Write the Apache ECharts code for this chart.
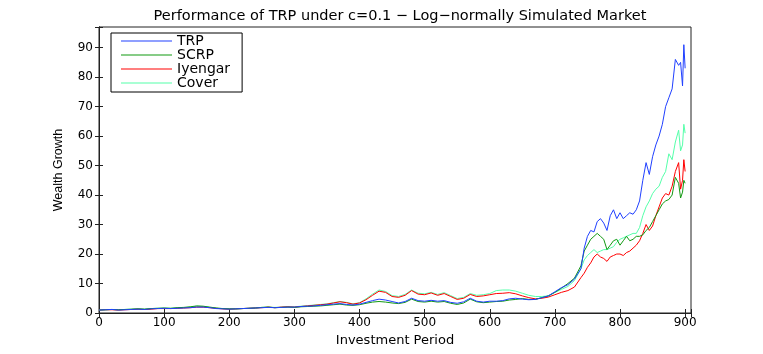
<!DOCTYPE html>
<html>
<head>
<meta charset="utf-8">
<script src="https://cdn.jsdelivr.net/npm/echarts@6/dist/echarts.min.js"></script>
<style>html,body{margin:0;padding:0;background:#fff;}#c{width:763px;height:354px;}</style>
</head>
<body>
<div id="c"></div>
<script>
var periods = [0,10,20,30,40,50,60,70,80,90,100,110,120,130,140,150,160,170,180,190,200,210,220,230,240,250,260,270,280,290,300,310,320,330,340,350,360,370,380,390,400,410,420,430,440,450,460,470,480,490,500,510,520,530,540,550,560,570,580,590,600,610,620,630,640,650,660,670,680,690,700,710,720,730,740,745,750,755,760,765,770,775,780,785,790,795,800,805,810,815,820,825,830,835,840,845,850,855,860,865,870,875,880,885,890,893,896,898,900];

var trp = [1.0,1.1,1.2,1.0,1.1,1.2,1.3,1.2,1.4,1.5,1.6,1.5,1.6,1.7,1.8,2.0,2.0,1.8,1.5,1.4,1.3,1.4,1.5,1.6,1.7,1.8,1.9,1.8,1.9,2.0,2.0,2.2,2.3,2.4,2.6,2.8,3.0,3.2,2.9,2.7,3.0,3.6,4.2,4.7,4.4,3.9,3.4,3.9,5.0,4.2,4.0,4.3,4.0,4.2,3.6,3.3,3.8,5.0,4.0,3.7,4.0,4.0,4.2,4.8,5.0,4.7,4.5,4.6,5.2,5.8,7.2,8.6,9.6,11.5,15,22,26,28,27.5,31,32,30.5,28,33,35,32,34,32,33,34,33.5,35,38,45,51,47,53,57,60,64,70,73,76,86,84,85,77,91,83];

var scrp = [1.0,1.1,1.2,1.1,1.2,1.3,1.4,1.3,1.5,1.6,1.7,1.6,1.8,1.9,2.1,2.4,2.3,2.0,1.7,1.5,1.4,1.4,1.5,1.6,1.7,1.9,2.0,1.8,1.9,2.0,1.9,2.1,2.2,2.3,2.4,2.6,2.8,3.0,2.7,2.6,2.8,3.3,3.7,3.9,3.7,3.4,3.2,3.6,4.7,3.9,3.7,4.0,3.7,3.9,3.3,2.9,3.4,4.7,3.8,3.5,3.7,3.9,4.0,4.4,4.6,4.9,4.6,4.6,5.2,5.8,7.0,8.4,10.0,11.8,16,21,23,25,26,27,26,25,21.5,23,24.5,25,23,24.5,26,24.5,25,26,26,26.5,28,29,31,33,35,37,38,38.5,40,46,44,39,41,45,44];

var iyengar = [1.0,1.1,1.1,1.0,1.1,1.2,1.3,1.2,1.3,1.5,1.5,1.5,1.6,1.7,1.8,2.0,2.0,1.8,1.6,1.4,1.3,1.4,1.5,1.6,1.7,1.8,2.0,1.8,2.0,2.1,2.0,2.2,2.4,2.6,2.8,3.0,3.4,3.8,3.5,3.0,3.4,4.5,6.0,7.4,7.0,5.6,5.3,6.0,7.6,6.4,6.2,6.8,6.0,6.6,5.6,4.6,5.0,6.3,5.6,5.8,6.2,6.6,6.7,6.9,6.5,5.8,5.2,4.8,5.0,5.4,6.2,7.0,7.6,8.8,12,13.5,15.5,17,19,20,19,18.5,17.5,19,19.5,20,20,19.5,20.5,21,22,23,24.5,27,30,28,29.5,33,36,39,40.5,40,43,48,51,42,45,52,48];

var cover = [1.0,1.1,1.2,1.1,1.2,1.3,1.4,1.3,1.5,1.6,1.6,1.6,1.7,1.8,2.0,2.3,2.2,1.9,1.6,1.5,1.4,1.4,1.5,1.6,1.7,1.9,2.0,1.9,2.0,2.1,2.1,2.3,2.5,2.7,2.9,3.1,3.5,3.9,3.6,3.1,3.5,4.8,6.4,7.8,7.3,5.9,5.6,6.3,7.8,6.7,6.5,7.0,6.3,6.9,5.9,4.9,5.3,6.6,6.0,6.2,6.6,7.6,7.8,7.8,7.4,6.7,6.0,5.6,5.6,5.8,7.0,8.0,9.0,11.0,15,18,19.5,20.5,21.5,20.5,21,21.5,21.5,22,22.5,24,25,25.5,26,26.5,27,27,29,33,36,38,40.5,42,43,46,48,54,52,58,62,55,57,64,61];

var seriesNames = ['TRP','SCRP','Iyengar','Cover'];
var seriesColors = ['#2040ff','#119911','#ff0000','#55ffaa'];
var xTicks = [0,100,200,300,400,500,600,700,800,900];
var yTicks = [0,10,20,30,40,50,60,70,80,90];

function zip(xs, ys){ return xs.map(function(x,i){ return [x, ys[i]]; }); }
var allValues = [trp, scrp, iyengar, cover];

var chart = echarts.init(document.getElementById('c'), null, {renderer:'canvas'});
var tickFont = {fontFamily:'DejaVu Sans', fontSize:12, color:'#000'};
var axisLineStyle = {show:true, lineStyle:{color:'#222', width:1}};
var option = {
  animation:false,
  backgroundColor:'#fff',
  title:{
    text:'Performance of TRP under c=0.1 \u2212 Log\u2212normally Simulated Market',
    left:395, top:4, textAlign:'center',
    textStyle:{fontFamily:'DejaVu Sans', fontSize:14.5, fontWeight:'normal', color:'#000'}
  },
  legend:{
    data:seriesNames,
    orient:'vertical', left:111, top:33,
    backgroundColor:'#fff', borderColor:'#000', borderWidth:1,
    padding:[1,12,2,10],
    icon:'rect', itemWidth:51, itemHeight:1, itemGap:0,
    textStyle:{fontFamily:'DejaVu Sans', fontSize:14, lineHeight:14, color:'#000'}
  },
  grid:{left:99, right:72, top:27, bottom:41, show:true, borderColor:'#222', borderWidth:1, backgroundColor:'#fff'},
  xAxis:[{
    type:'value', min:0, max:909, interval:100,
    name:'Investment Period', nameLocation:'middle', nameGap:15,
    nameTextStyle:{fontFamily:'DejaVu Sans', fontSize:13, color:'#000'},
    axisLine:axisLineStyle,
    axisTick:{show:true, inside:true, length:4, lineStyle:{color:'#222'}},
    axisLabel:{show:true, margin:4, formatter:function(v){ return xTicks.indexOf(v)>=0 ? String(v) : ''; }, fontFamily:tickFont.fontFamily, fontSize:tickFont.fontSize, color:tickFont.color},
    splitLine:{show:false}
  },{
    type:'value', position:'top', min:0, max:909, interval:100,
    axisLine:axisLineStyle,
    axisTick:{show:true, inside:true, length:4, lineStyle:{color:'#222'}},
    axisLabel:{show:false}, splitLine:{show:false}
  }],
  yAxis:[{
    type:'value', min:0, max:97, interval:10,
    name:'Wealth Growth', nameLocation:'middle', nameGap:34, nameRotate:90,
    nameTextStyle:{fontFamily:'Liberation Sans', fontSize:12.5, color:'#000'},
    axisLine:axisLineStyle,
    axisTick:{show:true, inside:true, length:4, lineStyle:{color:'#222'}},
    axisLabel:{show:true, margin:6, formatter:function(v){ return yTicks.indexOf(v)>=0 ? String(v) : ''; }, fontFamily:tickFont.fontFamily, fontSize:tickFont.fontSize, color:tickFont.color},
    splitLine:{show:false}
  },{
    type:'value', position:'right', min:0, max:97, interval:10,
    axisLine:axisLineStyle,
    axisTick:{show:true, inside:true, length:4, lineStyle:{color:'#222'}},
    axisLabel:{show:false}, splitLine:{show:false}
  }],
  series: seriesNames.map(function(n,i){
    return {
      name:n, type:'line', data:zip(periods, allValues[i]),
      xAxisIndex:0, yAxisIndex:0,
      showSymbol:false, symbol:'none',
      lineStyle:{color:seriesColors[i], width:1},
      itemStyle:{color:seriesColors[i]},
      z: 10 - i
    };
  })
};
chart.setOption(option);
</script>
</body>
</html>
